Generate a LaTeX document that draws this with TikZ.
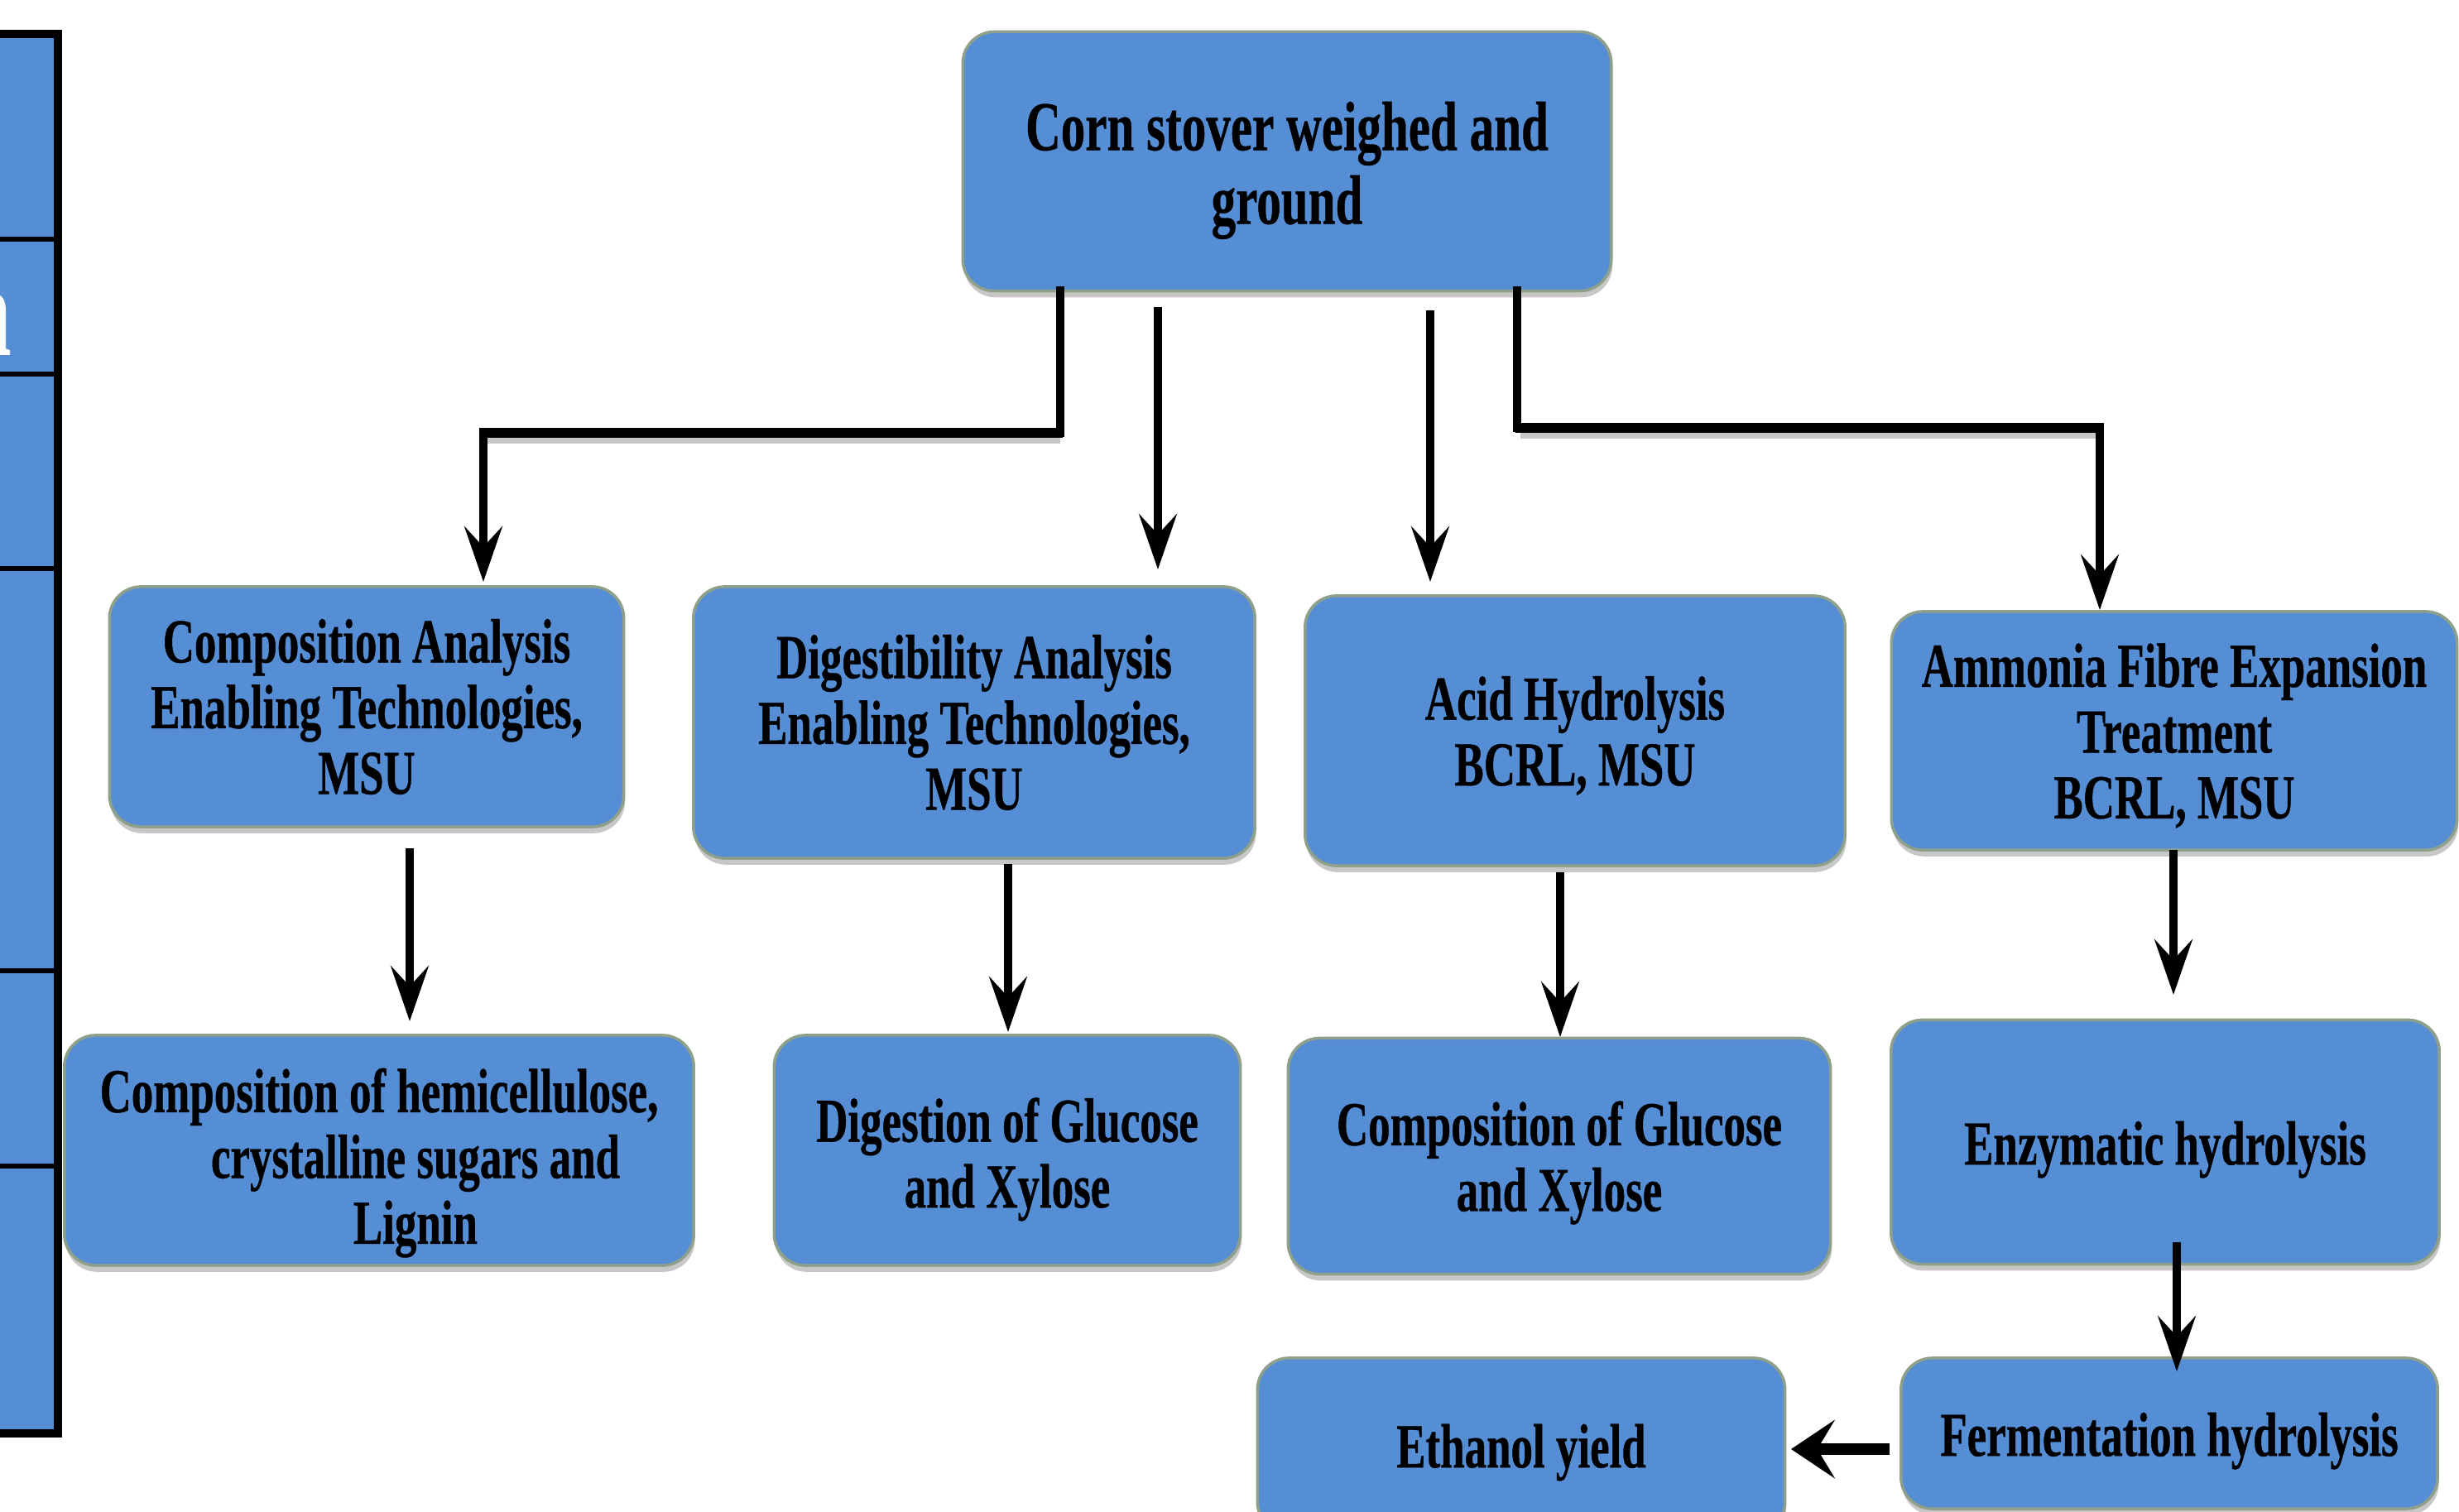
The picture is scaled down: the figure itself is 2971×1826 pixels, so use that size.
\documentclass[tikz,border=0pt]{standalone}
\usepackage{fontspec}
\newfontfamily\boxfont{Liberation Serif Bold}[FakeStretch=0.7, FakeBold=0.5]
\usetikzlibrary{arrows.meta,shadows,calc}
\definecolor{boxblue}{HTML}{558ED5}
\definecolor{boxedge}{HTML}{8FA08A}
\begin{document}
\begin{tikzpicture}[x=0.01cm,y=-0.01cm,
  box/.style={draw=boxedge, line width=1pt, fill=boxblue, rounded corners=0.38cm,
    inner sep=0pt,
    drop shadow={shadow xshift=0.4pt, shadow yshift=-2.2pt, fill=black, opacity=0.22}},
  lbl/.style={align=center, inner sep=0pt, font=\boxfont\fontsize{21.5}{22.6}\selectfont},
  biglbl/.style={align=center, inner sep=0pt, font=\boxfont\fontsize{24}{25.3}\selectfont},
  conn/.style={line width=2.6pt, line join=miter, -{Stealth[length=19pt, width=13pt, inset=7pt]}},
  elbowbar/.style={line width=3.6pt},
  barshadow/.style={line width=2pt, draw=black!22},
  thickconn/.style={line width=4pt, -{Stealth[length=15pt, width=20pt, inset=6pt]}},
  strip/.style={line width=2.6pt},
  divider/.style={line width=1.8pt}]
\useasboundingbox (0,0) rectangle (2971,1826);
\clip (0,0) rectangle (2971,1826);

% left strip
\fill[boxblue] (-30,41) rectangle (70,1732);
\foreach \yy in {289,452,687,1173,1409} \draw[divider] (-30,\yy) -- (70,\yy);
\draw[strip] (-30,41) -- (70,41) -- (70,1732) -- (-30,1732);
\node[text=white, font=\boxfont\fontsize{44}{44}\selectfont, anchor=east, inner sep=0pt] (cutn) at (14,392) {n};

% boxes
\node[box, minimum width=7.83cm, minimum height=3.13cm,
  label={[biglbl, yshift=-3.1pt]center:{Corn stover weighed and\\ground}}] (top) at (1555,195) {};
\node[box, minimum width=6.21cm, minimum height=2.90cm,
  label={[lbl]center:{Composition Analysis\\Enabling Technologies,\\MSU}}] (A) at (443,854) {};
\node[box, minimum width=6.78cm, minimum height=3.28cm,
  label={[lbl]center:{Digestibility Analysis\\Enabling Technologies,\\MSU}}] (B) at (1177,873) {};
\node[box, minimum width=6.52cm, minimum height=3.26cm,
  label={[lbl, yshift=-1.7pt]center:{Acid Hydrolysis\\BCRL, MSU}}] (C) at (1903,883) {};
\node[box, minimum width=6.83cm, minimum height=2.88cm,
  label={[lbl, yshift=-1.7pt]center:{Ammonia Fibre Expansion\\Treatment\\BCRL, MSU}}] (D) at (2627,883) {};
\node[box, minimum width=7.60cm, minimum height=2.78cm,
  label={[lbl, yshift=-4.3pt]center:{Composition of hemicellulose,\\\hspace*{25pt}crystalline sugars and\\\hspace*{25pt}Lignin}}] (E) at (458,1390) {};
\node[box, minimum width=5.63cm, minimum height=2.78cm,
  label={[lbl, yshift=-3.1pt]center:{Digestion of Glucose\\and Xylose}}] (F) at (1217,1390) {};
\node[box, minimum width=6.55cm, minimum height=2.85cm,
  label={[lbl, yshift=-2.3pt]center:{Composition of Glucose\\and Xylose}}] (G) at (1884,1397) {};
\node[box, minimum width=6.62cm, minimum height=2.95cm,
  label={[lbl, yshift=-2.6pt]center:{Enzymatic hydrolysis}}] (H) at (2616,1380) {};
\node[box, minimum width=6.37cm, minimum height=2.12cm,
  label={[lbl, yshift=-2.3pt]center:{Ethanol yield}}] (I) at (1838,1747) {};
\node[box, minimum width=6.48cm, minimum height=1.82cm,
  label={[lbl, yshift=-2.6pt]center:{Fermentation hydrolysis}}] (J) at (2621,1732) {};

% connector end points
\coordinate (s1) at (1281,346);
\coordinate (k1) at (584,523);
\coordinate (e1) at (584,703);
\coordinate (s2) at (1399,371);
\coordinate (e2) at (1399,688);
\coordinate (s3) at (1728,375);
\coordinate (e3) at (1728,703);
\coordinate (s4) at (1833,346);
\coordinate (k4) at (2537,517);
\coordinate (e4) at (2537,737);
\coordinate (s5) at (495,1025);
\coordinate (e5) at (495,1234);
\coordinate (s6) at (1218,1044);
\coordinate (e6) at (1218,1247);
\coordinate (s7) at (1885,1054);
\coordinate (e7) at (1885,1253);
\coordinate (s8) at (2626,1027);
\coordinate (e8) at (2626,1202);
\coordinate (s9) at (2630,1501);
\coordinate (e9) at (2630,1657);
\coordinate (s10) at (2283,1751);
\coordinate (e10) at (2164,1751);

% elbow shadows and bars
\draw[barshadow] ($(s1|-k1)+(0,9)$) -- ($(k1)+(4,9)$);
\draw[barshadow] ($(s4|-k4)+(4,9)$) -- ($(k4)+(4,9)$);
\draw[conn] (s1) |- (k1) -- (e1);
\draw[conn] (s4) |- (k4) -- (e4);
\draw[elbowbar] ($(s1|-k1)+(2.5,0)$) -- ($(k1)+(-5,0)$);
\draw[elbowbar] ($(s4|-k4)+(-2.5,0)$) -- ($(k4)+(5,0)$);

% straight connectors
\draw[conn] (s2) -- (e2);
\draw[conn] (s3) -- (e3);
\draw[conn] (s5) -- (e5);
\draw[conn] (s6) -- (e6);
\draw[conn] (s7) -- (e7);
\draw[conn] (s8) -- (e8);
\draw[conn] (s9) -- (e9);
\draw[thickconn] (s10) -- (e10);
\end{tikzpicture}
\end{document}
